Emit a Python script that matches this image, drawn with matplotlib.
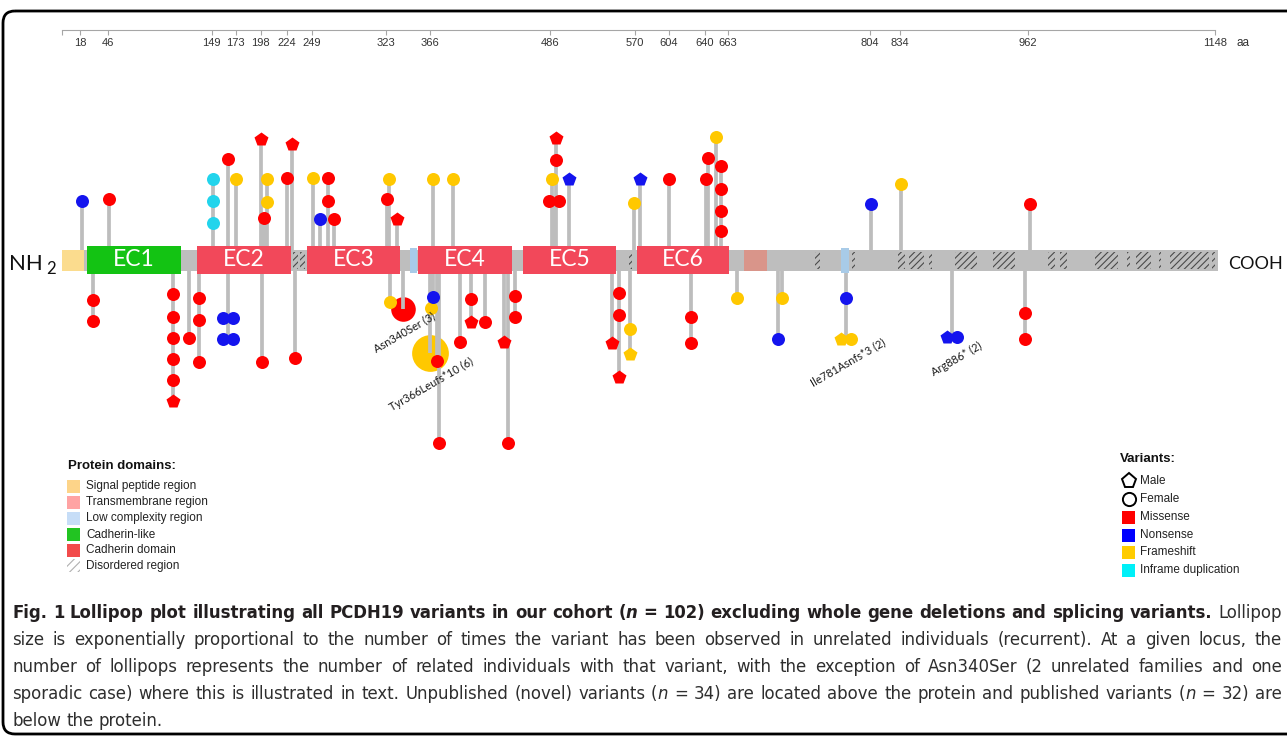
import matplotlib
matplotlib.use("Agg")
import matplotlib.pyplot as plt
from matplotlib import font_manager
from matplotlib.font_manager import FontProperties
from matplotlib.patches import Rectangle, FancyBboxPatch

# ruler above the protein (amino-acid positions)
ruler_ticks = [18, 46, 149, 173, 198, 224, 249, 323, 366, 486, 570, 604, 640, 663, 804, 834, 962, 1148]
protein_length = 1148

# PCDH19 domain layout (aa start, aa end)
signal_peptide = (0, 22)
transmembrane = (679, 702)
low_complexity = [(346, 353), (776, 784)]
ec_names = ["EC1", "EC2", "EC3", "EC4", "EC5", "EC6"]
ec_start = [25, 134, 244, 354, 459, 572]
ec_end = [118, 228, 337, 448, 552, 664]
ec_kind = ["like", "cad", "cad", "cad", "cad", "cad"]
disordered = [(230, 235), (237, 242), (565, 568), (750, 755), (787, 790), (832, 839),
              (843, 858), (863, 866), (889, 911), (927, 949), (982, 989), (994, 1001),
              (1028, 1051), (1060, 1063), (1069, 1084), (1092, 1094), (1103, 1142), (1145, 1148)]

# one entry per lollipop head
# level: distance of the head from the protein axis (+ novel / above, - published / below)
var_pos = [20, 47, 150, 150, 150, 165, 173, 198, 201, 204, 204, 224, 229, 250, 257, 265, 265, 271,
           324, 326, 334, 369, 389, 488, 490, 490, 492, 492, 505, 569, 575, 604, 641, 643, 651,
           656, 656, 656, 656, 805, 835, 964,
           31, 31, 111, 111, 111, 111, 111, 111, 126, 136, 136, 136, 165, 165, 165, 165, 199, 232,
           327, 340, 366, 367, 369, 373, 375, 396, 407, 407, 421, 440, 444, 451, 451, 548, 555, 555,
           555, 566, 566, 626, 626, 672, 713, 717, 781, 781, 781, 886, 886, 959, 959]
var_level = [60, 62, 82, 60, 38, 102, 82, 122, 43, 82, 59, 83, 117, 83, 42, 83, 60, 42,
             62, 82, 42, 82, 82, 82, 60, 60, 101, 123, 82, 58, 82, 82, 82, 103, 124,
             95, 72, 50, 30, 57, 77, 57,
             -39, -60, -33, -56, -77, -98, -119, -140, -77, -37, -59, -101, -57, -57, -78, -78, -101, -97,
             -41, -48, -92, -47, -36, -100, -182, -81, -38, -61, -61, -81, -182, -35, -56, -82, -32, -54,
             -116, -68, -93, -56, -82, -37, -78, -37, -37, -78, -78, -76, -76, -52, -78]
var_class = ["non", "mis", "dup", "dup", "dup", "mis", "fs", "mis", "mis", "fs", "fs", "mis", "mis", "fs", "non", "mis", "mis", "mis",
             "mis", "fs", "mis", "fs", "fs", "fs", "mis", "mis", "mis", "mis", "non", "fs", "non", "mis", "mis", "mis", "fs",
             "mis", "mis", "mis", "mis", "non", "fs", "mis",
             "mis", "mis", "mis", "mis", "mis", "mis", "mis", "mis", "mis", "mis", "mis", "mis", "non", "non", "non", "non", "mis", "mis",
             "fs", "mis", "fs", "fs", "non", "mis", "mis", "mis", "mis", "mis", "mis", "mis", "mis", "mis", "mis", "mis", "mis", "mis",
             "mis", "fs", "fs", "mis", "mis", "fs", "non", "fs", "non", "fs", "fs", "non", "non", "mis", "mis"]
var_sex = ["F", "F", "F", "F", "F", "F", "F", "M", "F", "F", "F", "F", "M", "F", "F", "F", "F", "F",
           "F", "F", "M", "F", "F", "F", "F", "F", "F", "M", "M", "F", "M", "F", "F", "F", "F",
           "F", "F", "F", "F", "F", "F", "F",
           "F", "F", "F", "F", "F", "F", "F", "M", "F", "F", "F", "F", "F", "F", "F", "F", "F", "F",
           "F", "F", "F", "F", "F", "F", "F", "F", "F", "M", "F", "M", "F", "F", "F", "M", "F", "F",
           "M", "F", "M", "F", "F", "F", "F", "F", "F", "M", "F", "M", "F", "F", "F"]
# times observed in unrelated individuals
var_recur = [1] * len(var_pos)
var_recur[var_pos.index(340)] = 3
var_recur[var_pos.index(366)] = 6

# named recurrent variants
named_variants = ["Asn340Ser (3)", "Tyr366Leufs*10 (6)", "Ile781Asnfs*3 (2)", "Arg886* (2)"]
named_pos = [340, 366, 781, 886]
named_level = [-48, -92, -78, -76]

class_colors = {"mis": "#ff0000", "non": "#1414ee", "fs": "#ffc800", "dup": "#22d4ec"}

W, H = 1287, 736
PX = 1.0044          # pixels per residue
X0 = 62              # pixel column of residue 0
AXIS_Y = 260.5       # pixel row of the protein axis
STEM = "#bdbdbd"
BACKBONE = "#bebebe"

plt.rcParams["font.family"] = ["Liberation Sans", "DejaVu Sans"]
plt.rcParams["hatch.linewidth"] = 0.8

fig = plt.figure(figsize=(W / 100, H / 100), dpi=100)

# pixel-space axes for frame, legends and caption
lay = fig.add_axes([0, 0, 1, 1], zorder=0)
lay.set_xlim(0, W)
lay.set_ylim(H, 0)
lay.axis("off")

# protein axes: x in residues, y in pixels away from the protein axis
ax = fig.add_axes([0, 0, 1, 1], zorder=1)
ax.set_xlim(-X0 / PX, (W - X0) / PX)
ax.set_ylim(AXIS_Y - H, AXIS_Y)
ax.axis("off")

lay.add_patch(FancyBboxPatch((3, 11), 1400, 723, boxstyle="round,pad=0,rounding_size=12",
                             fc="none", ec="black", lw=2.0))

# ruler
ry = AXIS_Y - 30
ax.plot([0, protein_length], [ry, ry], color="#a6a6a6", lw=0.8)
ax.vlines([0] + ruler_ticks, ry - 5, ry, color="#a6a6a6", lw=0.8)
for t in ruler_ticks:
    ax.text(t, ry - 13, str(t), ha="center", va="center", fontsize=8, color="#333333")
ax.text(protein_length + 21, ry - 13, "aa", ha="left", va="center", fontsize=8.5, color="#333333")

# protein body
ax.add_patch(Rectangle((0, -10.5), protein_length + 3, 21, fc=BACKBONE, ec="none", zorder=3))
for s, e in disordered:
    ax.add_patch(Rectangle((s, -8.5), e - s, 17, fc=BACKBONE, ec="#4a4a4a", lw=0,
                           hatch="/////", zorder=3.5))
ax.add_patch(Rectangle((signal_peptide[0], -10.5), signal_peptide[1] - signal_peptide[0], 21,
                       fc="#fbdc8e", ec="none", zorder=4))
ax.add_patch(Rectangle((transmembrane[0], -10.5), transmembrane[1] - transmembrane[0], 21,
                       fc="#d9958a", ec="none", zorder=4))
for s, e in low_complexity:
    ax.add_patch(Rectangle((s, -12.5), e - s, 25, fc="#a8cbe8", ec="none", zorder=4))
for name, s, e, kind in zip(ec_names, ec_start, ec_end, ec_kind):
    fc = "#13c313" if kind == "like" else "#f2485a"
    ax.add_patch(Rectangle((s, -13.5), e - s, 28, fc=fc, ec="none", zorder=4))
    ax.text((s + e) / 2, 0.5, name, color="white", ha="center", va="center",
            fontsize=16.5, family=["Lato", "DejaVu Sans"], zorder=5)

# stems: one per locus and side, up to the farthest head
tops = {}
for p, lv in zip(var_pos, var_level):
    key = (p, lv > 0)
    tops[key] = max(tops.get(key, 0), abs(lv))
for (p, up), reach in tops.items():
    ax.plot([p, p], [0, reach if up else -reach], color=STEM, lw=2.7,
            solid_capstyle="butt", zorder=2)


def head_diameter(n):
    # head grows with the number of unrelated observations
    return 13.0 * n ** 0.58


# heads; heads sharing locus and level sit side by side
groups = {}
for i, key in enumerate(zip(var_pos, var_level)):
    groups.setdefault(key, []).append(i)
for (p, lv), members in groups.items():
    n = len(members)
    for k, i in enumerate(members):
        x = p + (k - (n - 1) / 2) * 10.0 / PX
        d = head_diameter(var_recur[i]) * 0.72
        z = 1.5 if var_recur[i] > 1 else 6
        col = class_colors[var_class[i]]
        if var_sex[i] == "M":
            ax.plot(x, lv, marker="p", ms=d * 1.1, mfc=col, mec="none", zorder=z)
        else:
            ax.plot(x, lv, marker="o", ms=d, mfc=col, mec="none", zorder=z)

label_offsets = {"Asn340Ser (3)": (1, -24), "Tyr366Leufs*10 (6)": (1.5, -32),
                 "Ile781Asnfs*3 (2)": (2, -24), "Arg886* (2)": (5, -23)}
for txt, p, lv in zip(named_variants, named_pos, named_level):
    dx, dy = label_offsets[txt]
    ax.annotate(txt, xy=(p, lv), xytext=(dx * 0.72, dy * 0.72), textcoords="offset points",
                rotation=30, rotation_mode="anchor", ha="center", va="center",
                fontsize=8, family=["Lato", "DejaVu Sans"], color="#1a1a1a", zorder=7)

# termini
term_font = ["Lato", "DejaVu Sans"]
lay.text(43, 270, "NH", ha="right", va="baseline", fontsize=16, family=term_font, color="#111111")
lay.text(46, 274, "2", ha="left", va="baseline", fontsize=12, family=term_font, color="#111111")
lay.text(1228, 269, "COOH", ha="left", va="baseline", fontsize=13, family=term_font, color="#111111")

# protein domain legend
lay.text(68, 466, "Protein domains:", fontsize=9.5, fontweight="bold", va="center", color="#111111")
dom_labels = ["Signal peptide region", "Transmembrane region", "Low complexity region",
              "Cadherin-like", "Cadherin domain", "Disordered region"]
dom_colors = ["#fdd489", "#ffa3a3", "#c6ddf7", "#22c422", "#f24b4b", None]
dom_rows = [486.5, 502.5, 518.5, 534.5, 550, 565.5]
for lab, col, y in zip(dom_labels, dom_colors, dom_rows):
    if col is None:
        lay.add_patch(Rectangle((67, y - 6.5), 13, 13, fc="white", ec="#b0b0b0", lw=0, hatch="////"))
    else:
        lay.add_patch(Rectangle((67, y - 6.5), 13, 13, fc=col, ec="none"))
    lay.text(86, y, lab, fontsize=8.5, va="center", color="#222222")

# variant legend
lay.text(1120, 459, "Variants:", fontsize=9.5, fontweight="bold", va="center", color="#111111")
lay.plot(1128.5, 481, marker="p", ms=11, mfc="white", mec="black", mew=1.4)
lay.text(1140, 481, "Male", fontsize=8.5, va="center", color="#222222")
lay.plot(1128.5, 499, marker="o", ms=9.5, mfc="white", mec="black", mew=1.4)
lay.text(1140, 499, "Female", fontsize=8.5, va="center", color="#222222")
leg_classes = ["Missense", "Nonsense", "Frameshift", "Inframe duplication"]
leg_colors = ["#ff0000", "#0000ff", "#ffcc00", "#00f0f8"]
for lab, col, y in zip(leg_classes, leg_colors, [517, 535, 552, 570]):
    lay.add_patch(Rectangle((1122, y - 6.5), 13, 13, fc=col, ec="none"))
    lay.text(1140, y, lab, fontsize=8.5, va="center", color="#222222")

# caption
caption_segments = [
    [("Fig. 1 Lollipop plot illustrating all PCDH19 variants in our cohort (", "bold", "normal"),
     ("n", "bold", "italic"),
     (" = 102) excluding whole gene deletions and splicing variants.", "bold", "normal"),
     (" Lollipop", "normal", "normal")],
    [("size is exponentially proportional to the number of times the variant has been observed "
      "in unrelated individuals (recurrent). At a given locus, the", "normal", "normal")],
    [("number of lollipops represents the number of related individuals with that variant, "
      "with the exception of Asn340Ser (2 unrelated families and one", "normal", "normal")],
    [("sporadic case) where this is illustrated in text. Unpublished (novel) variants (", "normal", "normal"),
     ("n", "normal", "italic"),
     (" = 34) are located above the protein and published variants (", "normal", "normal"),
     ("n", "normal", "italic"),
     (" = 32) are", "normal", "normal")],
    [("below the protein.", "normal", "normal")],
]
caption_baselines = [618, 645, 672, 699, 726]


def weight_num(w):
    if isinstance(w, str):
        return {"normal": 400, "regular": 400, "book": 400, "medium": 500, "semibold": 600,
                "bold": 700, "light": 300}.get(w, 400)
    return w


def caption_faces():
    # a narrow sans family if one is installed: regular, bold, italic, bold italic files
    entries = font_manager.fontManager.ttflist
    narrow = [f for f in entries
              if ("Narrow" in f.name or "Condensed" in f.name or "Narrow" in f.fname
                  or "Condensed" in f.fname)
              and "Semi" not in f.fname and "Extra" not in f.fname and "Ultra" not in f.fname
              and "Mono" not in f.fname and "Serif" not in f.fname and "Serif" not in f.name]
    families = {}
    for f in narrow:
        families.setdefault((f.name, f.stretch), []).append(f)
    order = ["Liberation Sans Narrow", "DejaVu Sans Condensed", "DejaVu Sans", "Noto Sans",
             "Roboto Condensed", "Roboto", "Open Sans Condensed", "Open Sans"]
    ranked = sorted(families.items(),
                    key=lambda kv: order.index(kv[0][0]) if kv[0][0] in order else len(order))
    for (name, stretch), faces in ranked:
        picks = {}
        for wt in ("normal", "bold"):
            for st in ("normal", "italic"):
                best = None
                for f in faces:
                    score = abs(weight_num(f.weight) - (700 if wt == "bold" else 400))
                    score += 0 if (f.style != "normal") == (st == "italic") else 1000
                    if best is None or score < best[0]:
                        best = (score, f.fname)
                picks[(wt, st)] = best[1]
        if picks:
            return picks
    return None


renderer = fig.canvas.get_renderer()
cap_files = caption_faces()


def cap_props(weight, style, size):
    if cap_files is not None:
        return FontProperties(fname=cap_files[(weight, style)], size=size)
    return FontProperties(family="Liberation Sans", weight=weight, style=style, size=size)


def split_words(segments):
    words = []
    new_word = True
    for text, weight, style in segments:
        for i, piece in enumerate(text.split(" ")):
            if i > 0:
                new_word = True
            if piece == "":
                continue
            if new_word or not words:
                words.append([])
            words[-1].append((piece, weight, style))
            new_word = False
    return words


def text_width(s, weight, style, size):
    t = lay.text(0, 0, s, fontproperties=cap_props(weight, style, size))
    w = t.get_window_extent(renderer=renderer).width
    t.remove()
    return w


def word_width(word, size):
    return sum(text_width(p, w, s, size) for p, w, s in word)


cap_words = [split_words(segs) for segs in caption_segments]
left, right = 12, 1282

size = 13.5
space = text_width("a a", "normal", "normal", size) - text_width("aa", "normal", "normal", size)
natural = max(sum(word_width(w, size) for w in line) + space * (len(line) - 1) for line in cap_words[:-1])
size = min(14.5, max(9.0, size * (right - left - 6) / natural))
space = text_width("a a", "normal", "normal", size) - text_width("aa", "normal", "normal", size)

for li, (line, base) in enumerate(zip(cap_words, caption_baselines)):
    widths = [word_width(w, size) for w in line]
    if li < len(cap_words) - 1 and len(line) > 1:
        gap = (right - left - sum(widths)) / (len(line) - 1)
    else:
        gap = space
    x = left
    for word, ww in zip(line, widths):
        for piece, weight, style in word:
            lay.text(x, base, piece, fontproperties=cap_props(weight, style, size),
                     ha="left", va="baseline",
                     color="#231f20" if weight == "bold" else "#2e2e2e")
            x += text_width(piece, weight, style, size)
        x += gap

fig.savefig("out.png", dpi=100)
